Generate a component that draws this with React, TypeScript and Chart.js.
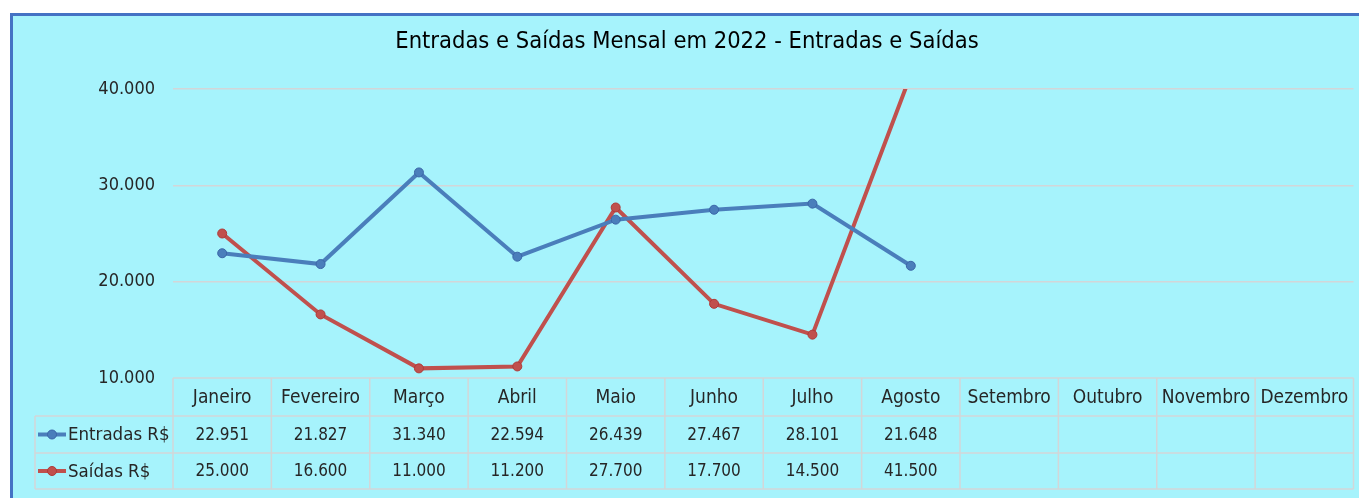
import React, { useEffect, useRef } from "react";
import { Chart, registerables } from "chart.js";

Chart.register(...registerables);

const TITLE = "Entradas e Saídas Mensal em 2022 - Entradas e Saídas";
const months = [
  "Janeiro", "Fevereiro", "Março", "Abril", "Maio", "Junho",
  "Julho", "Agosto", "Setembro", "Outubro", "Novembro", "Dezembro",
];
const entradasLabel = "Entradas R$";
const saidasLabel = "Saídas R$";
const entradas = [22951, 21827, 31340, 22594, 26439, 27467, 28101, 21648];
const saidas = [25000, 16600, 11000, 11200, 27700, 17700, 14500, 41500];
const yTicks = [10000, 20000, 30000, 40000];

const FONT = '"DejaVu Sans Condensed", "DejaVu Sans", sans-serif';
const BG = "#A6F3FC";
const BLUE = "#4A7EBB";
const BLUE_DARK = "#3B66A8";
const RED = "#C0504D";
const RED_DARK = "#B03A38";
const GRID = "#D3D6D8";
const TEXT = "#262626";

const fmt = (v: number) => v.toLocaleString("pt-BR");

const framePlugin = {
  id: "frame",
  beforeDraw(chart: any) {
    const ctx = chart.ctx;
    const W = chart.width;
    const H = chart.height;
    ctx.save();
    ctx.fillStyle = "#ffffff";
    ctx.fillRect(0, 0, W, H);
    ctx.fillStyle = BG;
    ctx.fillRect(10, 13, W - 10, H - 13);
    ctx.fillStyle = "#4472C4";
    ctx.fillRect(10, 13, 3, H - 13);
    ctx.fillRect(10, 13, W - 10, 3);
    ctx.fillStyle = "#000000";
    ctx.font = `23.5px ${FONT}`;
    ctx.textAlign = "center";
    ctx.textBaseline = "middle";
    ctx.fillText(TITLE, 687, 42);
    ctx.restore();
  },
  afterDraw(chart: any) {
    const ctx = chart.ctx;
    const area = chart.chartArea;
    const xs = chart.scales.x;
    const n = months.length;
    const colW = (area.right - area.left) / n;
    const top = area.bottom;
    const rowH = [38, 37, 36];
    const r1 = top + rowH[0];
    const r2 = r1 + rowH[1];
    const r3 = r2 + rowH[2];
    const legendLeft = 35;
    ctx.save();
    ctx.strokeStyle = GRID;
    ctx.lineWidth = 1.5;
    ctx.beginPath();
    ctx.moveTo(area.left, top); ctx.lineTo(area.right, top);
    ctx.moveTo(legendLeft, r1); ctx.lineTo(area.right, r1);
    ctx.moveTo(legendLeft, r2); ctx.lineTo(area.right, r2);
    ctx.moveTo(legendLeft, r3); ctx.lineTo(area.right, r3);
    ctx.moveTo(legendLeft, r1); ctx.lineTo(legendLeft, r3);
    for (let i = 0; i <= n; i++) {
      const x = area.left + i * colW;
      ctx.moveTo(x, top); ctx.lineTo(x, r3);
    }
    ctx.stroke();

    ctx.fillStyle = TEXT;
    ctx.textAlign = "center";
    ctx.textBaseline = "middle";
    ctx.font = `19px ${FONT}`;
    months.forEach((m, i) => {
      const x = xs.getPixelForValue(i);
      ctx.fillText(m, x, (top + r1) / 2 + 1);
    });
    ctx.font = `17px ${FONT}`;
    entradas.forEach((v, i) => {
      const x = xs.getPixelForValue(i);
      ctx.fillText(fmt(v), x, (r1 + r2) / 2 + 1);
    });
    saidas.forEach((v, i) => {
      const x = xs.getPixelForValue(i);
      ctx.fillText(fmt(v), x, (r2 + r3) / 2 + 1);
    });

    const keys = [
      { label: entradasLabel, color: BLUE, dark: BLUE_DARK, y: (r1 + r2) / 2 },
      { label: saidasLabel, color: RED, dark: RED_DARK, y: (r2 + r3) / 2 },
    ];
    ctx.font = `18.5px ${FONT}`;
    keys.forEach((k) => {
      ctx.strokeStyle = k.color;
      ctx.lineWidth = 4;
      ctx.beginPath();
      ctx.moveTo(38, k.y); ctx.lineTo(66, k.y);
      ctx.stroke();
      ctx.fillStyle = k.color;
      ctx.strokeStyle = k.dark;
      ctx.lineWidth = 1;
      ctx.beginPath();
      ctx.arc(52, k.y, 4.5, 0, Math.PI * 2);
      ctx.fill();
      ctx.stroke();
      ctx.fillStyle = TEXT;
      ctx.textAlign = "left";
      ctx.fillText(k.label, 68, k.y + 1);
    });
    ctx.restore();
  },
};

export default function App() {
  const ref = useRef<HTMLCanvasElement | null>(null);
  useEffect(() => {
    if (!ref.current) return;
    const chart = new Chart(ref.current, {
      type: "line",
      data: {
        labels: months,
        datasets: [
          {
            label: entradasLabel,
            data: entradas,
            borderColor: BLUE,
            backgroundColor: BLUE,
            borderWidth: 4,
            pointRadius: 4.5,
            pointBackgroundColor: BLUE,
            pointBorderColor: BLUE_DARK,
            pointBorderWidth: 1,
            tension: 0,
            clip: 0,
          },
          {
            label: saidasLabel,
            data: saidas,
            borderColor: RED,
            backgroundColor: RED,
            borderWidth: 4,
            pointRadius: 4.5,
            pointBackgroundColor: RED,
            pointBorderColor: RED_DARK,
            pointBorderWidth: 1,
            tension: 0,
            clip: 0,
          },
        ],
      },
      options: {
        responsive: false,
        animation: false,
        devicePixelRatio: 1,
        layout: { padding: { left: 0, top: 89, right: 2, bottom: 120 } },
        plugins: {
          legend: { display: false },
          title: { display: false },
          tooltip: { enabled: false },
        },
        scales: {
          x: {
            type: "category",
            display: false,
            offset: true,
          },
          y: {
            min: 10000,
            max: 40000,
            afterFit: (s: any) => { s.width = 173; },
            afterBuildTicks: (s: any) => {
              s.ticks = yTicks.map((v) => ({ value: v }));
            },
            border: { display: false },
            grid: {
              color: (c: any) => (c.tick && c.tick.value === 10000 ? "rgba(0,0,0,0)" : GRID),
              lineWidth: 1.5,
              drawTicks: false,
            },
            ticks: {
              padding: 18,
              color: TEXT,
              font: { family: FONT, size: 18 },
              callback: (v: any) => fmt(Number(v)),
            },
          },
        },
      },
      plugins: [framePlugin],
    } as any);
    return () => chart.destroy();
  }, []);
  return (
    <div style={{ position: "fixed", left: 0, top: 0, width: 1359, height: 498 }}>
      <canvas ref={ref} width={1359} height={498} style={{ display: "block" }} />
    </div>
  );
}
